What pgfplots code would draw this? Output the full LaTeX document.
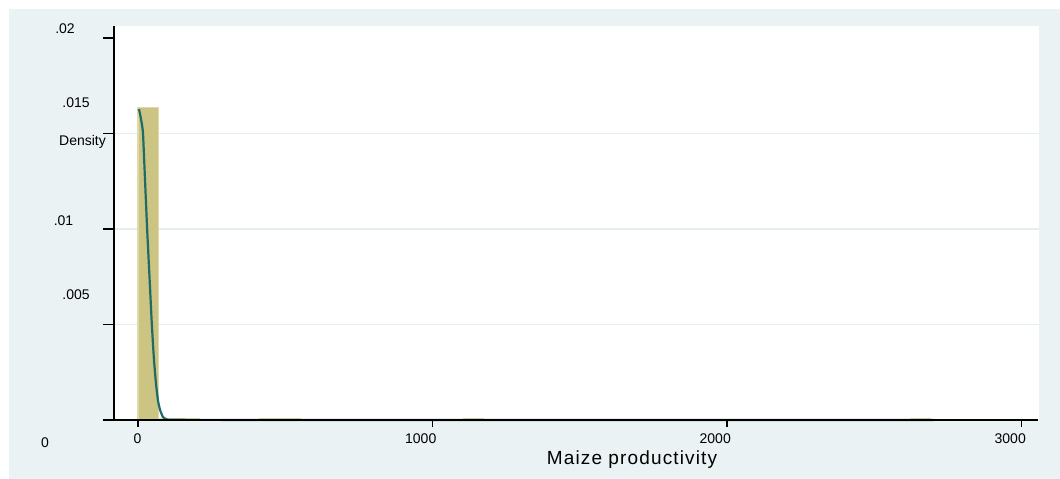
\documentclass[border=0pt]{standalone}
\usepackage{pgfplots}
\pgfplotsset{compat=1.18}
\usepackage{fontspec}
\setmainfont{Liberation Sans}
\definecolor{panel}{RGB}{234,242,243}
\definecolor{gridc}{RGB}{228,238,240}
\definecolor{khaki}{RGB}{203,196,130}
\definecolor{khakiedge}{RGB}{224,218,170}
\definecolor{kde}{RGB}{30,108,104}
\begin{document}
\begin{tikzpicture}[x=1pt,y=1pt]
\useasboundingbox (0,0) rectangle (1060,479);
\fill[white] (0,0) rectangle (1060,479);
\fill[panel] (9,0) rectangle (1060,470);
\begin{axis}[at={(114pt,59pt)}, anchor=south west, scale only axis,
  width=925pt, height=394pt,
  xmin=-81.5, xmax=3059, ymin=0, ymax=0.020628,
  axis line style={draw=none},
  axis background/.style={fill=white},
  xtick={0,1000,2000,3000}, ytick={0.005,0.01,0.015},
  xticklabels={}, yticklabels={}, major tick length=0pt,
  scaled y ticks=false, scaled x ticks=false,
  ymajorgrids, grid style={gridc, line width=1.2pt},
  clip=false]
\addplot[ybar interval, fill=khaki, draw=khakiedge, line width=1.2pt] coordinates {
 (0,0.01634) (69,0.00006) (138,0.00005) (207,0.00004) (276,0.00003) (345,0.00001)
 (414,0.00005) (483,0.00005) (552,0) (621,0) (690,0) (759,0) (828,0) (897,0)
 (966,0) (1035,0) (1104,0.00005) (1173,0) (1242,0) (1311,0) (1380,0) (1449,0)
 (1518,0) (1587,0) (1656,0) (1725,0) (1794,0) (1863,0) (1932,0) (2001,0)
 (2070,0) (2139,0) (2208,0) (2277,0) (2346,0) (2415,0) (2484,0) (2553,0)
 (2622,0.00005) (2691,0)};
\addplot[kde, line width=2.2pt, smooth, tension=0.3] coordinates {
 (3,0.01628) (7,0.0160) (12,0.0156) (17,0.0150) (24,0.0125) (31,0.0100)
 (39,0.0075) (47,0.0050) (54,0.0032) (61,0.0019) (68,0.0010) (75,0.00052)
 (85,0.00015) (98,0.00003) (120,0.00001) (300,0.000005) (1000,0.000003) (2700,0.000002)};
\end{axis}
% axis lines and ticks
\draw[line width=1.5pt] (103,59) -- (1038,59);
\draw[line width=1.5pt] (114,59) -- (114,453);
\foreach \yy in {154.5,250,345.5,441} {\draw[line width=1.5pt] (103,\yy) -- (114,\yy);}
\foreach \xx in {138,432.5,727,1021.5} {\draw[line width=1.5pt] (\xx,59) -- (\xx,52);}
% tick labels
\begin{scope}[every node/.style={inner sep=0pt, font=\fontsize{14}{16}\selectfont}]
\node at (65,450) {.02};
\node at (76,376) {.015};
\node at (63.5,258) {.01};
\node at (76,184) {.005};
\node at (45,36) {0};
\node[anchor=base] at (82.5,333) {Density};
\node[anchor=base east] at (141.5,35) {0};
\node[anchor=base east] at (436.5,35) {1000};
\node[anchor=base east] at (731,35) {2000};
\node[anchor=base east] at (1026,35) {3000};
\end{scope}
\node[inner sep=0pt, anchor=base, font=\fontsize{19}{22}\selectfont\addfontfeatures{LetterSpace=6}] at (632,14) {Maize productivity};
\end{tikzpicture}
\end{document}
